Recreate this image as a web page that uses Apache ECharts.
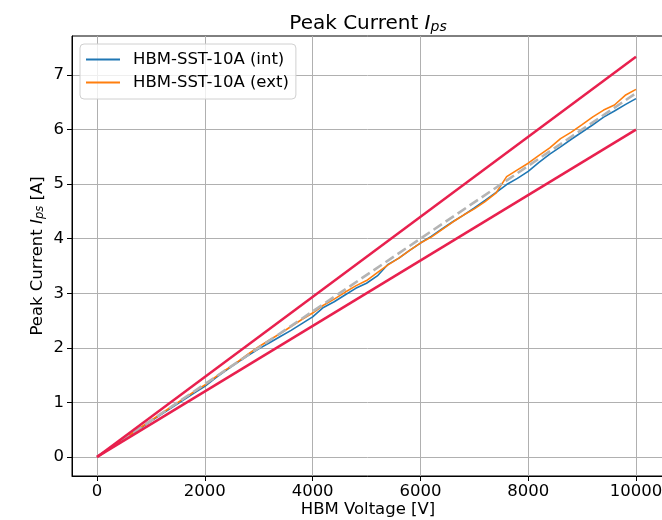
<!DOCTYPE html>
<html>
<head>
<meta charset="utf-8">
<script src="https://cdn.jsdelivr.net/npm/echarts@6/dist/echarts.min.js"></script>
<style>
html,body{margin:0;padding:0;background:#fff;}
#chart{width:662px;height:520px;}
</style>
</head>
<body>
<div id="chart"></div>
<script>
// HBM voltage [V]
var voltage = [0,200,400,600,800,1000,1200,1400,1600,1800,2000,2200,2400,2600,2800,3000,3200,3400,3600,3800,4000,4200,4400,4600,4800,5000,5200,5400,5600,5800,6000,6200,6400,6600,6800,7000,7200,7400,7600,7800,8000,8200,8400,8600,8800,9000,9200,9400,9600,9800,10000];
// Peak current, internal measurement [A]
var currentInt = [0,0.133,0.267,0.395,0.523,0.657,0.785,0.913,1.042,1.170,1.293,1.447,1.590,1.728,1.857,1.980,2.093,2.207,2.320,2.443,2.567,2.740,2.843,2.967,3.090,3.183,3.317,3.530,3.643,3.787,3.920,4.043,4.177,4.310,4.433,4.562,4.700,4.843,4.992,5.105,5.233,5.397,5.550,5.683,5.822,5.955,6.088,6.227,6.340,6.458,6.567];
// Peak current, external measurement [A]
var currentExt = [0,0.134,0.268,0.402,0.535,0.668,0.800,0.933,1.065,1.195,1.318,1.467,1.605,1.738,1.882,2.020,2.143,2.262,2.390,2.518,2.637,2.780,2.893,3.017,3.135,3.233,3.377,3.520,3.643,3.787,3.920,4.028,4.167,4.305,4.433,4.547,4.680,4.833,5.137,5.260,5.383,5.527,5.665,5.833,5.952,6.090,6.233,6.357,6.450,6.628,6.737];
// Reference lines (nominal and +/-10 % limits)
var refVoltage = [0, 10000];
var refNominal = [0, 6.667];
var refUpper = [0, 7.333];
var refLower = [0, 6.0];
// Tick values
var xTicks = [0, 2000, 4000, 6000, 8000, 10000];
var yTicks = [0, 1, 2, 3, 4, 5, 6, 7];

function pairs(xs, ys) { return xs.map(function (x, i) { return [x, ys[i]]; }); }

var FONT = 'DejaVu Sans';
var FS = 16.5;
var chart = echarts.init(document.getElementById('chart'), null, {renderer: 'canvas'});
var red = '#e8204e';

chart.setOption({
  animation: false,
  backgroundColor: '#fff',
  title: {
    text: 'Peak Current {i|I}{s|ps}',
    left: 363, textAlign: 'center', top: 9,
    textStyle: {
      fontFamily: FONT, fontSize: 20, fontWeight: 'normal', color: '#000',
      rich: {
        i: {fontFamily: FONT, fontSize: 20, fontStyle: 'italic', color: '#000'},
        s: {fontFamily: FONT, fontSize: 14, fontStyle: 'italic', color: '#000', verticalAlign: 'bottom', lineHeight: 9}
      }
    }
  },
  legend: {
    orient: 'vertical', left: 80, top: 44,
    padding: [7, 7, 8, 6], itemGap: 6,
    itemWidth: 34, itemHeight: 2, icon: 'rect',
    backgroundColor: 'rgba(255,255,255,0.8)',
    borderColor: '#d0d0d0', borderWidth: 1, borderRadius: 4,
    textStyle: {fontFamily: FONT, fontSize: FS, color: '#000', lineHeight: 17, padding: [0, 0, 0, 8]},
    data: [{name: 'HBM-SST-10A (int)', icon: 'rect'}, {name: 'HBM-SST-10A (ext)', icon: 'rect'}]
  },
  grid: {left: 72, width: 592, top: 36, bottom: 44, outerBoundsMode: 'none', containLabel: false,
    show: true, borderColor: '#000', borderWidth: 1, backgroundColor: 'transparent'},
  xAxis: {
    type: 'value', min: -465, max: 10520,
    name: 'HBM Voltage [V]', nameLocation: 'middle', nameGap: 25, nameMoveOverlap: false,
    nameTextStyle: {fontFamily: FONT, fontSize: FS, color: '#000'},
    axisLine: {show: true, onZero: false, lineStyle: {color: '#000', width: 1}},
    axisTick: {show: true, length: 5, customValues: xTicks, lineStyle: {color: '#000'}},
    axisLabel: {customValues: xTicks, fontFamily: FONT, fontSize: FS, color: '#000', margin: 7,
      formatter: function (v) { return String(v); }},
    splitLine: {show: true, lineStyle: {color: '#b0b0b0', width: 1}}
  },
  yAxis: {
    type: 'value', min: -0.35, max: 7.715,
    name: 'Peak Current {i|I}{s|ps} [A]', nameLocation: 'middle', nameGap: 26, nameRotate: 90, nameMoveOverlap: false,
    nameTextStyle: {
      fontFamily: FONT, fontSize: FS, color: '#000',
      rich: {
        i: {fontFamily: FONT, fontSize: FS, fontStyle: 'italic', color: '#000'},
        s: {fontFamily: FONT, fontSize: 11.5, fontStyle: 'italic', color: '#000', verticalAlign: 'bottom', lineHeight: 8}
      }
    },
    axisLine: {show: true, onZero: false, lineStyle: {color: '#000', width: 1}},
    axisTick: {show: true, length: 5, customValues: yTicks, lineStyle: {color: '#000'}},
    axisLabel: {customValues: yTicks, fontFamily: FONT, fontSize: FS, color: '#000', margin: 8},
    splitLine: {show: true, lineStyle: {color: '#b0b0b0', width: 1}}
  },
  series: [
    {name: 'HBM-SST-10A (int)', type: 'line', data: pairs(voltage, currentInt), symbol: 'none', color: '#1f77b4', lineStyle: {width: 1.6, color: '#1f77b4'}, z: 3},
    {name: 'HBM-SST-10A (ext)', type: 'line', data: pairs(voltage, currentExt), symbol: 'none', color: '#ff7f0e', lineStyle: {width: 1.6, color: '#ff7f0e'}, z: 4},
    {name: 'nominal', type: 'line', data: pairs(refVoltage, refNominal), symbol: 'none', lineStyle: {width: 2.6, color: '#b4b4b4', type: [10, 4.5]}, z: 5},
    {name: 'upper', type: 'line', data: pairs(refVoltage, refUpper), symbol: 'none', lineStyle: {width: 2.5, color: red}, z: 6},
    {name: 'lower', type: 'line', data: pairs(refVoltage, refLower), symbol: 'none', lineStyle: {width: 2.5, color: red}, z: 6}
  ]
});
</script>
</body>
</html>
